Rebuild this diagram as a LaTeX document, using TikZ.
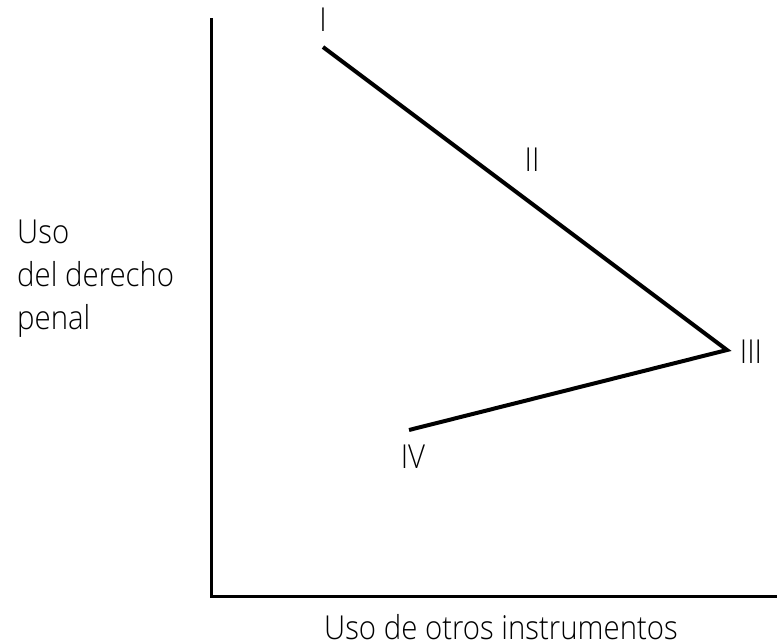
\documentclass[tikz,border=0pt]{standalone}
\usepackage{fontspec}
\setmainfont{Open Sans}[UprightFont=* Light, FakeStretch=0.89]
\begin{document}
\begin{tikzpicture}[x=1pt,y=-1pt,
  lbl/.style={inner sep=0pt,anchor=base,font=\fontsize{33}{43}\selectfont},
  axis/.style={line width=3pt},
  curve/.style={line width=4pt}]
\useasboundingbox (0,0) rectangle (777,643);
\coordinate (top) at (211,18);
\coordinate (org) at (211,596);
\coordinate (right) at (777,596);
\draw[axis] (top) -- (org) -- (right);
\coordinate (p1) at (323,47);
\coordinate (p3) at (727,350);
\coordinate (p4) at (409,430);
\draw[curve] (p1) -- (p3) -- (p4);
\node[lbl] (l1) at (323,31) {I};
\node[lbl] (l2) at (532,171) {II};
\node[lbl] (l3) at (751,363) {III};
\node[lbl] (l4) at (413,468) {IV};
\node[lbl,anchor=base west] (y1) at (17,243) {Uso};
\node[lbl,anchor=base west] (y2) at (17,286) {del derecho};
\node[lbl,anchor=base west] (y3) at (17,329) {penal};
\node[lbl] (xlab) at (501,639) {Uso de otros instrumentos};
\end{tikzpicture}
\end{document}
